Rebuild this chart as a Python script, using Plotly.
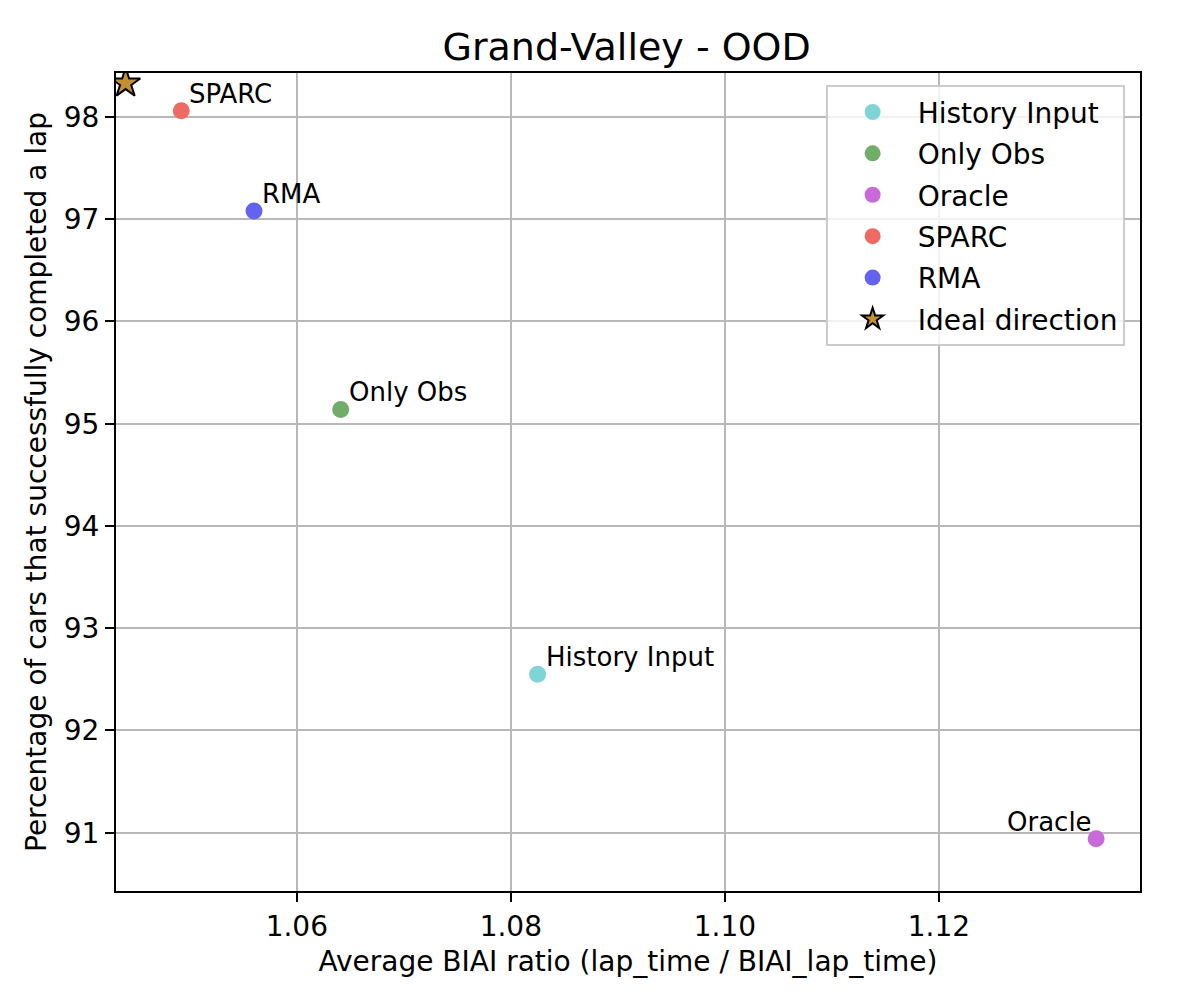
import plotly.graph_objects as go

# values
methods = ['History Input', 'Only Obs', 'Oracle', 'SPARC', 'RMA']
biai_ratio = [1.0825, 1.0641, 1.1347, 1.0492, 1.0560]
completed_pct = [92.55, 95.14, 90.94, 98.06, 97.08]
colors = ['#7fd4d8', '#6fad68', '#c86ad8', '#ee6a63', '#6363f0']

ideal_x = [1.0440]
ideal_y = [98.33]

x_ticks = [1.06, 1.08, 1.10, 1.12]
y_ticks = [91, 92, 93, 94, 95, 96, 97, 98]

FONT = 'DejaVu Sans'

fig = go.Figure()

for name, x, y, c in zip(methods, biai_ratio, completed_pct, colors):
    fig.add_trace(go.Scatter(
        x=[x], y=[y], mode='markers', name=name, legendgroup=name,
        marker=dict(color=c, size=17, line=dict(width=0)),
    ))
    # Oracle label sits on the left, the rest on the upper right
    if name == 'Oracle':
        fig.add_annotation(x=x, y=y, text=name, showarrow=False,
                           xanchor='right', yanchor='bottom',
                           xshift=-2, yshift=0,
                           font=dict(family=FONT, size=26, color='black'))
    else:
        fig.add_annotation(x=x, y=y, text=name, showarrow=False,
                           xanchor='left', yanchor='bottom',
                           xshift=6, yshift=0,
                           font=dict(family=FONT, size=26, color='black'))

fig.add_trace(go.Scatter(
    x=ideal_x, y=ideal_y, mode='markers', name='Ideal direction',
    legendgroup='ideal',
    marker=dict(symbol='star', color='#c39032', size=22,
                line=dict(color='black', width=2)),
))

axis_common = dict(
    showline=True, linecolor='black', linewidth=2, mirror=True,
    ticks='outside', ticklen=9, tickwidth=2, tickcolor='black',
    showgrid=True, gridcolor='#b8b8b8', gridwidth=2,
    zeroline=False,
    tickfont=dict(family=FONT, size=28, color='black'),
)

fig.update_xaxes(
    range=[1.0431, 1.1388], tickvals=x_ticks, tickformat='.2f',
    title=dict(text='Average BIAI ratio (lap_time / BIAI_lap_time)',
               font=dict(family=FONT, size=28, color='black'), standoff=10),
    **axis_common,
)
fig.update_yaxes(
    range=[90.43, 98.43], tickvals=y_ticks,
    title=dict(text='Percentage of cars that successfully completed a lap',
               font=dict(family=FONT, size=28, color='black'), standoff=9),
    **axis_common,
)

fig.update_layout(
    width=1192, height=998,
    paper_bgcolor='white', plot_bgcolor='white',
    margin=dict(l=108, r=60, t=65, b=115),
    title=dict(text='Grand-Valley - OOD', x=0.519, xanchor='center',
               y=0.961, yanchor='middle',
               font=dict(family=FONT, size=38, color='black')),
    font=dict(family=FONT, color='black'),
    showlegend=True,
    legend=dict(x=0.985, y=0.985, xanchor='right', yanchor='top',
                bgcolor='rgba(255,255,255,0.8)', bordercolor='#cccccc',
                borderwidth=2, font=dict(family=FONT, size=28, color='black'),
                itemsizing='trace', itemwidth=80, tracegroupgap=2),
)

fig.write_html('out.html')
